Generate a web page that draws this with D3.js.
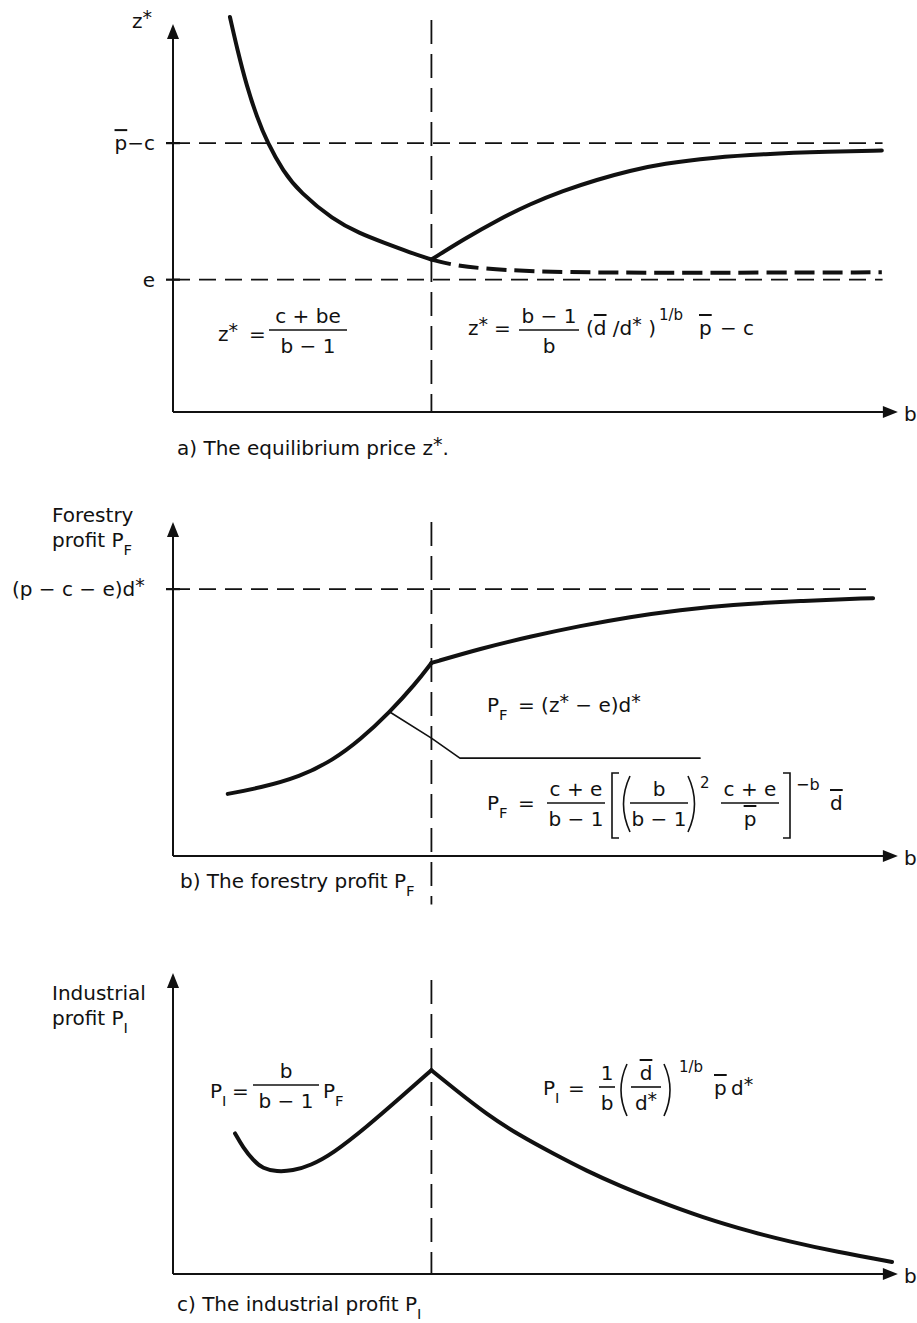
<!DOCTYPE html>
<html lang="en">
<head>
<meta charset="UTF-8">
<script src="https://d3js.org/d3.v7.min.js"></script>
<title>Equilibrium price, forestry and industrial profit</title>
<style>
  body { margin: 0; background: #fff; }
  svg { display: block; }
  text { font-family: "DejaVu Sans", "Open Sans", sans-serif; fill: #111; }
</style>
</head>
<body>
<svg id="chart" width="917" height="1323"></svg>
<script>
// b in abstract units (0 = origin), kink where the two regimes meet
const bKink = 3.54;
const bAxisEnd = 9.93;

// a) equilibrium price z*
const zLeftB   = [0.78, 0.88, 1.01, 1.15, 1.29, 1.51, 1.74, 2.19, 2.56, 2.88, 3.25, 3.54];
const zLeftV   = [101.8, 93.5, 84.0, 76.0, 69.5, 62.0, 56.6, 49.6, 46.0, 43.7, 41.1, 39.3];
const zRightB  = [3.54, 3.99, 4.44, 4.89, 5.34, 5.81, 6.26, 6.71, 7.40, 8.08, 9.00, 9.71];
const zRightV  = [39.3, 44.6, 49.4, 53.6, 57.0, 59.9, 62.2, 64.0, 65.6, 66.5, 67.1, 67.4];
const zLowB    = [3.54, 3.8, 4.2, 4.9, 6.0, 7.5, 9.71];
const zLowV    = [39.3, 38.0, 37.0, 36.2, 35.9, 35.9, 36.0];
const zLevels  = [69.3, 34.1];          // p-c, e
const zLevelLabels = ["{p}−c", "e"];

// b) forestry profit PF
const fLeftB   = [0.75, 1.19, 1.74, 2.19, 2.56, 2.97, 3.32, 3.54];
const fLeftV   = [18.6, 20.4, 23.7, 28.7, 34.7, 43.1, 51.5, 57.8];
const fRightB  = [3.54, 4.21, 4.89, 5.58, 6.26, 6.95, 7.63, 8.59, 9.59];
const fRightV  = [57.8, 62.1, 65.7, 68.9, 71.6, 73.7, 75.2, 76.4, 77.2];
const fBranchB = [2.97, 3.54, 3.93, 7.22];
const fBranchV = [43.1, 35.3, 29.3, 29.3];
const fLevels  = [79.9];                // (p-c-e)d*

// c) industrial profit PI
const iLeftB   = [0.85, 0.96, 1.10, 1.23, 1.42, 1.64, 1.88, 2.19, 2.66, 3.11, 3.54];
const iLeftV   = [46.7, 42.0, 37.7, 35.0, 34.0, 34.3, 36.0, 40.0, 49.0, 58.5, 67.7];
const iRightB  = [3.54, 3.84, 4.30, 4.75, 5.21, 5.67, 6.12, 6.58, 7.26, 7.95, 8.41, 9.10, 9.85];
const iRightV  = [67.7, 61.8, 53.0, 46.0, 40.0, 34.2, 29.3, 24.8, 18.7, 13.8, 11.0, 7.3, 4.0];

const svg = d3.select("#chart");
const FS = 20;

const x = d3.scaleLinear().domain([0, 10]).range([173, 903]);
const yA = d3.scaleLinear().domain([0, 100]).range([412, 24]);
const yB = d3.scaleLinear().domain([0, 100]).range([856, 522]);
const yC = d3.scaleLinear().domain([0, 100]).range([1274, 973]);

const pts = (bs, vs) => bs.map((b, i) => [b, vs[i]]);

// rich text: ^{sup} _{sub} {overline}
function rich(px, py, s, size = FS, anchor = "start") {
  const t = svg.append("text").attr("x", px).attr("y", py)
    .attr("font-size", size).attr("text-anchor", anchor);
  let shift = 0;
  s.split(/(\^\{[^}]*\}|_\{[^}]*\}|\{[^}]*\})/).filter(p => p).forEach(p => {
    let kind = "n", body = p;
    if (/^[\^_]\{/.test(p)) { kind = p[0]; body = p.slice(2, -1); }
    else if (p[0] === "{") { kind = "o"; body = p.slice(1, -1); }
    const star = kind === "^" && body === "*";
    const d = kind === "^" ? (star ? -0.22 : -0.38) * size : kind === "_" ? 0.38 * size : 0;
    const ts = t.append("tspan").attr("dy", d - shift).text(body);
    shift = d;
    if (kind === "^" || kind === "_") ts.attr("font-size", size * (star ? 0.95 : 0.74));
    if (kind === "o") ts.style("text-decoration", "overline");
  });
  return t;
}

function frac(cx, ly, w, num, den) {
  svg.append("line").attr("x1", cx - w / 2).attr("x2", cx + w / 2)
    .attr("y1", ly).attr("y2", ly).attr("stroke", "#111").attr("stroke-width", 1.6);
  rich(cx, ly - 7, num, FS, "middle");
  rich(cx, ly + 23, den, FS, "middle");
}

function glyph(d) {
  svg.append("path").attr("d", d).attr("fill", "none")
    .attr("stroke", "#111").attr("stroke-width", 1.6);
}

function drawPanel(y, opts) {
  const g = svg.append("g");
  const base = y(0), top = y(100);
  // axes
  g.append("line").attr("x1", x(0)).attr("x2", x(0)).attr("y1", base).attr("y2", top + 8)
    .attr("stroke", "#111").attr("stroke-width", 2);
  g.append("line").attr("x1", x(0)).attr("x2", x(bAxisEnd) - 8).attr("y1", base).attr("y2", base)
    .attr("stroke", "#111").attr("stroke-width", 2.2);
  g.append("path").attr("d", `M${x(0)},${top} L${x(0) - 6},${top + 15} L${x(0) + 6},${top + 15} Z`)
    .attr("fill", "#111");
  const xe = x(bAxisEnd);
  g.append("path").attr("d", `M${xe},${base} L${xe - 15},${base - 6} L${xe - 15},${base + 6} Z`)
    .attr("fill", "#111");
  rich(xe + 6, base + 9, "b");

  // kink line
  g.append("line").attr("x1", x(bKink)).attr("x2", x(bKink))
    .attr("y1", y(opts.kink[0])).attr("y2", y(opts.kink[1]))
    .attr("stroke", "#111").attr("stroke-width", 1.8).attr("stroke-dasharray", "24,10");

  // horizontal reference levels
  opts.levels.forEach(v => {
    g.append("line").attr("x1", x(0)).attr("x2", x(opts.levelEnd))
      .attr("y1", y(v)).attr("y2", y(v))
      .attr("stroke", "#111").attr("stroke-width", 1.8).attr("stroke-dasharray", "17,9");
    g.append("line").attr("x1", x(0) - 7).attr("x2", x(0) + 7)
      .attr("y1", y(v)).attr("y2", y(v)).attr("stroke", "#111").attr("stroke-width", 2.2);
  });

  const smooth = d3.line().x(d => x(d[0])).y(d => y(d[1])).curve(d3.curveBasis);
  const straight = d3.line().x(d => x(d[0])).y(d => y(d[1]));
  opts.curves.forEach(c => {
    g.append("path").attr("d", (c.linear ? straight : smooth)(c.data))
      .attr("fill", "none").attr("stroke", "#111")
      .attr("stroke-width", c.w || 4).attr("stroke-linecap", c.dash ? "butt" : "round")
      .attr("stroke-linejoin", "round")
      .attr("stroke-dasharray", c.dash || null);
  });
  return g;
}

// ---------- a) ----------
drawPanel(yA, {
  kink: [101, 0], levels: zLevels, levelEnd: 9.72,
  curves: [
    { data: pts(zLeftB, zLeftV) },
    { data: pts(zRightB, zRightV) },
    { data: pts(zLowB, zLowV), dash: "20,8", w: 4 }
  ]
});
rich(132, 28, "z^{*}");
zLevels.forEach((v, i) => rich(155, yA(v) + 7, zLevelLabels[i], FS, "end"));

rich(218, 341, "z^{*}");
rich(249, 341, "=");
frac(308, 330, 78, "c + be", "b − 1");
rich(468, 335, "z^{*}");
rich(494, 335, "=");
frac(549, 330, 60, "b − 1", "b");
rich(586, 335, "({d} /d^{*} )");
rich(659, 320, "1/b", 15);
rich(699, 335, "{p}");
rich(720, 335, "− c");
rich(177, 455, "a) The equilibrium price z^{*}.");

// ---------- b) ----------
drawPanel(yB, {
  kink: [100, -14.5], levels: fLevels, levelEnd: 9.59,
  curves: [
    { data: pts(fLeftB, fLeftV) },
    { data: pts(fRightB, fRightV) },
    { data: pts(fBranchB, fBranchV), w: 1.6, linear: true }
  ]
});
rich(52, 522, "Forestry");
rich(52, 547, "profit P_{F}");
rich(12, yB(fLevels[0]) + 7, "(p − c − e)d^{*}");

rich(487, 712, "P_{F}");
rich(518, 712, "= (z^{*} − e)d^{*}");

rich(487, 810, "P_{F}");
rich(518, 810, "=");
frac(576, 803, 58, "c + e", "b − 1");
glyph("M619,773 L612,773 L612,838 L619,838");
glyph("M630,776 Q617,804 630,832");
frac(659, 803, 58, "b", "b − 1");
glyph("M688,776 Q701,804 688,832");
rich(700, 788, "2", 15);
frac(750, 803, 58, "c + e", "{p}");
glyph("M783,773 L790,773 L790,838 L783,838");
rich(796, 790, "−b", 16);
rich(830, 810, "{d}");
rich(180, 888, "b) The forestry profit P_{F}");

// ---------- c) ----------
drawPanel(yC, {
  kink: [97.7, 0], levels: [], levelEnd: 9.6,
  curves: [
    { data: pts(iLeftB, iLeftV) },
    { data: pts(iRightB, iRightV) }
  ]
});
rich(52, 1000, "Industrial");
rich(52, 1025, "profit P_{I}");

rich(210, 1098, "P_{I}");
rich(232, 1098, "=");
frac(286, 1085, 66, "b", "b − 1");
rich(323, 1098, "P_{F}");

rich(543, 1095, "P_{I}");
rich(568, 1095, "=");
frac(607, 1087, 16, "1", "b");
glyph("M627,1064 Q615,1090 627,1116");
frac(646, 1087, 30, "{d}", "d^{*}");
glyph("M664,1064 Q676,1090 664,1116");
rich(679, 1072, "1/b", 15);
rich(714, 1095, "{p}");
rich(731, 1095, "d^{*}");
rich(177, 1311, "c) The industrial profit P_{I}");
</script>
</body>
</html>
